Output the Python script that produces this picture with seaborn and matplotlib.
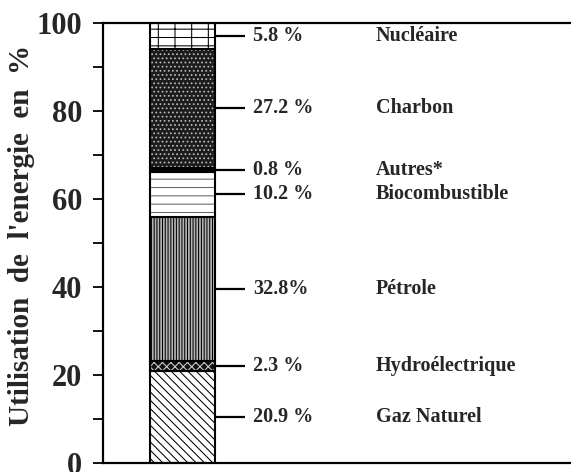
import matplotlib
matplotlib.use("Agg")
import matplotlib.pyplot as plt
import seaborn as sns
import pandas as pd

# ---- data ----
sources = ["Gaz Naturel", "Hydroélectrique", "Pétrole", "Biocombustible",
           "Autres*", "Charbon", "Nucléaire"]
shares = [20.9, 2.3, 32.8, 10.2, 0.8, 27.2, 5.8]
share_labels = ["20.9 %", "2.3 %", "32.8%", "10.2 %", "0.8 %", "27.2 %", "5.8 %"]
yticks_major = [0, 20, 40, 60, 80, 100]
yticks_minor = [10, 30, 50, 70, 90]
ylabel = "Utilisation  de  l'energie  en  %"

# ---- styles ----
faces = ["white", "#111111", "#b4b4b4", "white", "black", "#1c1c1c", "white"]
hatches = ["\\\\\\\\", "xxxx", "||||||", "--", None, "....", "--|"]
hatch_cols = ["black", "#d0d0d0", "black", "#666666", "black", "#b8b8b8", "black"]

sns.set_theme(style="ticks")
plt.rcParams["font.family"] = ["Liberation Serif", "DejaVu Serif"]
plt.rcParams["font.weight"] = "bold"
plt.rcParams["hatch.linewidth"] = 0.75

W, H = 571, 472
fig = plt.figure(figsize=(W / 100, H / 100), dpi=100)
ax = fig.add_axes([103 / W, 9 / H, 1 - 103 / W, 440 / H])

bottoms = []
acc = 0.0
for s in shares:
    bottoms.append(acc)
    acc += s
df = pd.DataFrame({"cat": [""] * len(shares), "source": sources,
                   "share": shares, "bottom": bottoms})

bar_w = 0.8
for i in range(len(df)):
    sub = df.iloc[[i]]
    kw = dict(data=sub, x="cat", y="share", bottom=df["bottom"].iloc[i],
              width=bar_w, errorbar=None, ax=ax)
    sns.barplot(color=faces[i], saturation=1, hatch=hatches[i],
                edgecolor=hatch_cols[i], linewidth=0, **kw)
    sns.barplot(color="black", fill=False, linewidth=1.5, **kw)

# leader lines & labels
x_edge = bar_w / 2
px_per_unit = 65 / bar_w
for i in range(len(df)):
    c = df["bottom"].iloc[i] + df["share"].iloc[i] / 2
    ax.plot([x_edge, x_edge + 30 / px_per_unit], [c, c], color="black",
            lw=1.6, solid_capstyle="butt")
    ax.text(x_edge + 38 / px_per_unit, c, share_labels[i], va="center",
            ha="left", fontsize=14.5, fontweight="bold")
    ax.text(x_edge + 160 / px_per_unit, c, sources[i], va="center",
            ha="left", fontsize=14.5, fontweight="bold")

left = -x_edge - 47 / px_per_unit
ax.set_xlim(left, left + 467 / px_per_unit)
ax.set_ylim(0, 100)
ax.set_yticks(yticks_major)
ax.set_yticks(yticks_minor, minor=True)
ax.set_yticklabels([str(t) for t in yticks_major], fontsize=22,
                   fontweight="bold")
ax.set_xticks([])
ax.set_xlabel("")
ax.tick_params(axis="y", which="both", direction="out", length=7,
               width=1.3, pad=8, color="black")
for side in ["left", "top", "bottom"]:
    ax.spines[side].set_linewidth(1.6)
    ax.spines[side].set_color("black")
ax.spines["right"].set_visible(False)
ax.set_ylabel(ylabel, fontsize=21, fontweight="bold")
ax.yaxis.set_label_coords(-0.145, 0.518)

fig.savefig("out.png", dpi=100)
